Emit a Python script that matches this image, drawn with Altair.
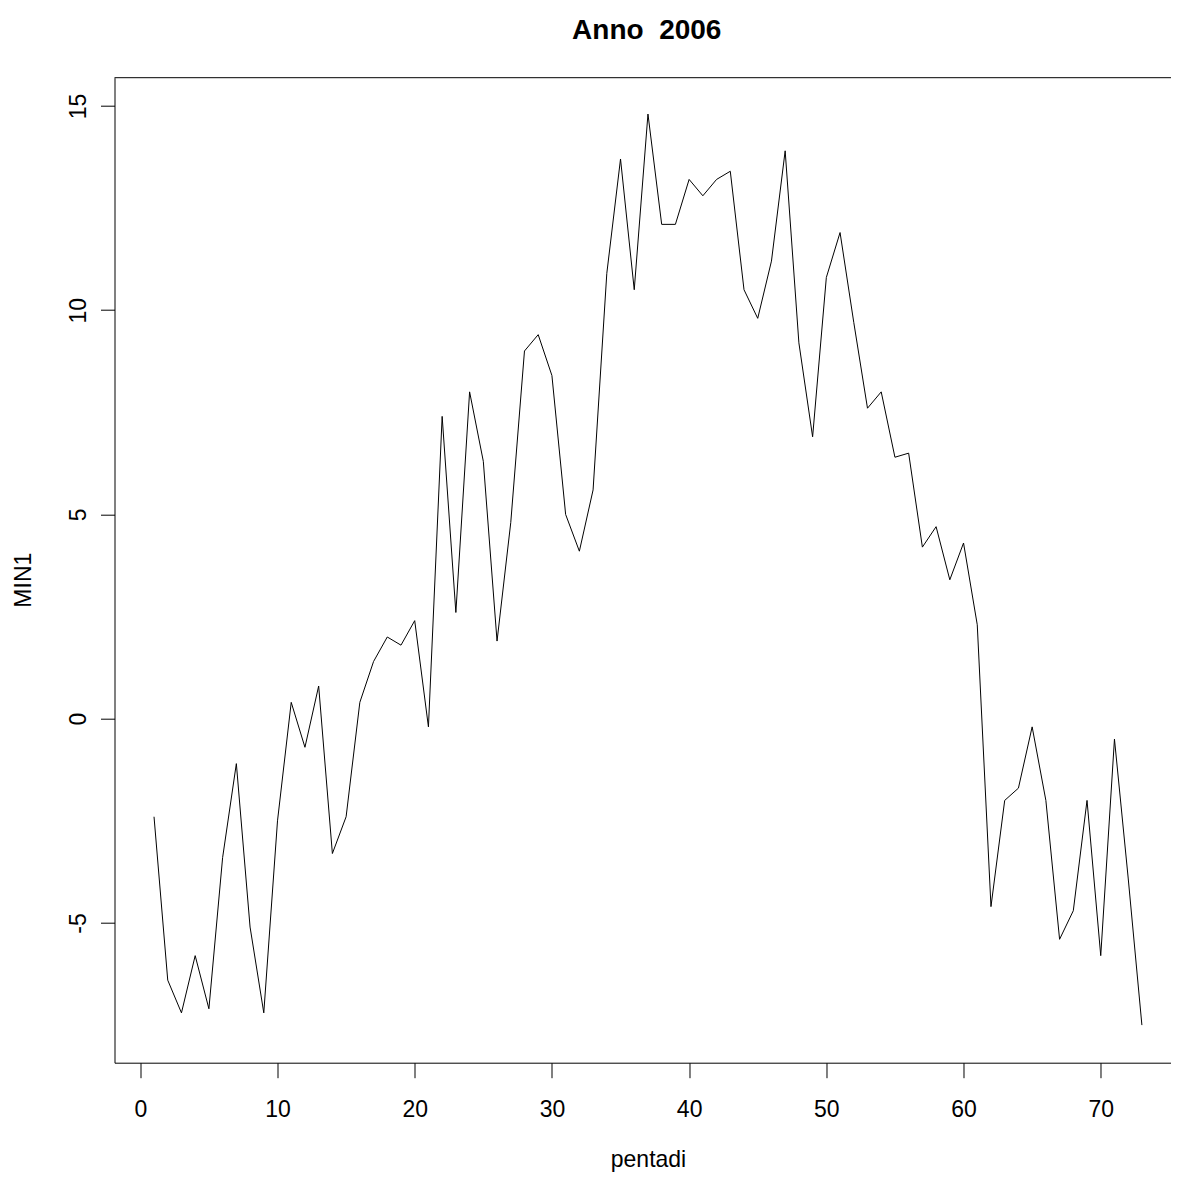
import altair as alt
import pandas as pd

pentadi = list(range(1, 74))
min1 = [
    -2.4, -6.4, -7.2, -5.8, -7.1, -3.4, -1.1, -5.1, -7.2, -2.5,
    0.4, -0.7, 0.8, -3.3, -2.4, 0.4, 1.4, 2.0, 1.8, 2.4,
    -0.2, 7.4, 2.6, 8.0, 6.3, 1.9, 4.8, 9.0, 9.4, 8.4,
    5.0, 4.1, 5.6, 10.9, 13.7, 10.5, 14.8, 12.1, 12.1, 13.2,
    12.8, 13.2, 13.4, 10.5, 9.8, 11.2, 13.9, 9.2, 6.9, 10.8,
    11.9, 9.7, 7.6, 8.0, 6.4, 6.5, 4.2, 4.7, 3.4, 4.3,
    2.3, -4.6, -2.0, -1.7, -0.2, -2.0, -5.4, -4.7, -2.0, -5.8,
    -0.5, -3.9, -7.5,
]
x_ticks = [0, 10, 20, 30, 40, 50, 60, 70]
y_ticks = [-5, 0, 5, 10, 15]

df = pd.DataFrame({"pentadi": pentadi, "MIN1": min1})

W = 1056.5
H = 985
FONT = "Liberation Sans"

line = alt.Chart(df).mark_line(color="black", strokeWidth=1).encode(
    x=alt.X(
        "pentadi:Q",
        scale=alt.Scale(domain=[-1.88, 75.12], nice=False, zero=False),
        axis=alt.Axis(
            values=x_ticks, title="pentadi", grid=False, tickSize=15,
            labelPadding=21, labelFontSize=23, titleFontSize=23,
            titleFontWeight="normal", titleX=533.5, titleY=104,
            titleBaseline="alphabetic", titleAlign="center",
            labelFlush=False, labelOverlap=False,
        ),
    ),
    y=alt.Y(
        "MIN1:Q",
        scale=alt.Scale(domain=[-8.42, 15.69], nice=False, zero=False),
        axis=alt.Axis(
            values=y_ticks, title="MIN1", grid=False, tickSize=14,
            labelAngle=270, labelAlign="center", labelBaseline="alphabetic",
            labelPadding=15.5, labelFontSize=23, titleFontSize=23,
            labelExpr="'' + datum.value",
            titleFontWeight="normal", titleAngle=270, titleX=-84.5,
            titleY=502, titleBaseline="alphabetic", titleAlign="center",
            labelFlush=False, labelOverlap=False,
        ),
    ),
)

top = alt.Chart(pd.DataFrame({"a": [0]})).mark_rule(
    color="black", strokeWidth=1
).encode(x=alt.value(0), x2=alt.value(W), y=alt.value(0))

chart = (
    alt.layer(line, top)
    .properties(
        width=W,
        height=H,
        title=alt.TitleParams(
            "Anno \u00a02006", fontSize=28, fontWeight="bold", font=FONT,
            baseline="alphabetic", offset=40, anchor="middle", dx=4, dy=30,
            color="black",
        ),
        autosize=alt.AutoSizeParams(type="none"),
        padding={"left": 106.5, "top": 69.7, "right": 0, "bottom": 110},
    )
    .configure_view(strokeWidth=0)
    .configure_axis(
        domainColor="black", tickColor="black", labelColor="black",
        titleColor="black", labelFont=FONT, titleFont=FONT,
        domainWidth=1, tickWidth=1,
    )
)

chart.save("out.html", embed_options={"renderer": "svg", "actions": False})
